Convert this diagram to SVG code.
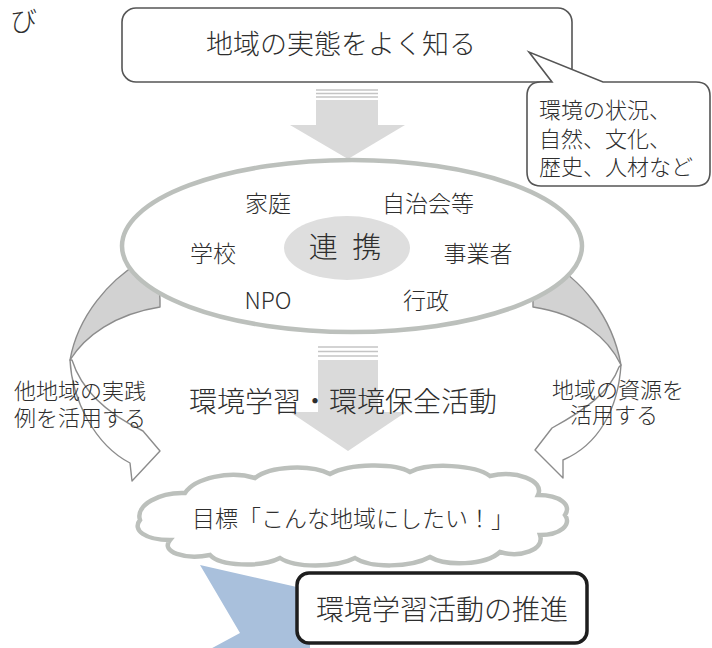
<svg xmlns="http://www.w3.org/2000/svg" width="712" height="648" viewBox="0 0 712 648">
<style>
text{font-family:"Noto Sans CJK JP","Noto Sans",sans-serif;font-weight:300;fill:#2e2e2e;}
.box{fill:#fff;stroke:#555;stroke-width:1.6;}
.ring{fill:#fff;stroke:#bcc0bc;stroke-width:4.5;}
.down{fill:#dadada;}
.stripe{stroke:#c4c4c4;stroke-width:1.3;}
.rib{fill:#d2d2d2;stroke:#8c8c8c;stroke-width:1.4;stroke-linejoin:round;}
.ribw{fill:#fff;stroke:#8c8c8c;stroke-width:1.4;stroke-linejoin:round;}
.l22{font-size:22px;}
.l23{font-size:23px;}
</style>
<text x="10" y="31" style="font-size:27px">び</text>
<g id="connectors">
  <g id="arrow-top">
    <line class="stripe" x1="316" y1="90" x2="378" y2="90"/>
    <line class="stripe" x1="316" y1="93.5" x2="378" y2="93.5"/>
    <line class="stripe" x1="316" y1="97" x2="378" y2="97"/>
    <polygon class="down" points="316,100 378,100 378,125 405,125 348,159 290,125 316,125"/>
  </g>
  <g id="arrow-mid">
    <line class="stripe" x1="318" y1="347" x2="378" y2="347"/>
    <line class="stripe" x1="318" y1="351.5" x2="378" y2="351.5"/>
    <line class="stripe" x1="318" y1="356" x2="378" y2="356"/>
    <polygon class="down" points="318,360 378,360 378,412 406,412 348,451 290,412 318,412"/>
  </g>
  <g id="ribbon-left">
    <path class="rib" d="M140,262 C110,280 78,315 70,360 C85,336 115,314 160,307 L160,300 L158,262 Z"/>
    <path class="ribw" d="M70,360 C72,400 95,445 130,463 L132,481 L160,451 L143,431 C110,415 82,392 72,360 Z"/>
  </g>
  <g id="ribbon-right">
    <path class="rib" d="M545,260 C580,278 612,315 621,365 C608,338 580,314 533,307 L533,298 Z"/>
    <path class="ribw" d="M621,365 C618,410 598,445 563,460 L563,478 L535,450 L552,428 C585,410 610,392 619,367 Z"/>
  </g>
  <polygon id="chevron" points="200,565 310,590 310,660 190,660 240,633" fill="#a9c0dc"/>
</g>
<g id="node-know">
  <rect class="box" x="122" y="8" width="450" height="74" rx="14"/>
  <text x="341" y="54" style="font-size:27px" text-anchor="middle">地域の実態をよく知る</text>
</g>
<g id="node-callout">
  <path class="box" d="M541,82 L552,82 L529,52 L603,82 L696,82 Q710,82 710,96 L710,172 Q710,186 696,186 L541,186 Q527,186 527,172 L527,96 Q527,82 541,82 Z"/>
  <text class="l22" x="539" y="118">環境の状況、<tspan x="539" y="147">自然、文化、</tspan><tspan x="539" y="175">歴史、人材など</tspan></text>
</g>
<g id="node-partners">
  <ellipse class="ring" cx="352" cy="246" rx="230" ry="86"/>
  <ellipse cx="347" cy="248" rx="63" ry="32" fill="#dedede"/>
  <text x="347" y="258" style="font-size:29px;letter-spacing:4px" text-anchor="middle">連 携</text>
  <text class="l23" x="268" y="212" text-anchor="middle">家庭</text>
  <text class="l23" x="428" y="212" text-anchor="middle">自治会等</text>
  <text class="l23" x="213" y="262" text-anchor="middle">学校</text>
  <text class="l23" x="478" y="262" text-anchor="middle">事業者</text>
  <text class="l23" x="268" y="309" text-anchor="middle">NPO</text>
  <text class="l23" x="426" y="309" text-anchor="middle">行政</text>
</g>
<g id="label-left">
  <text class="l22" x="80" y="399" text-anchor="middle">他地域の実践<tspan x="80" y="426">例を活用する</tspan></text>
</g>
<g id="label-right">
  <text class="l22" x="618" y="398" text-anchor="middle">地域の資源を<tspan x="614" y="423">活用する</tspan></text>
</g>
<g id="node-activity">
  <text x="343" y="412" style="font-size:28px" text-anchor="middle">環境学習・環境保全活動</text>
</g>
<g id="node-goal">
  <path class="ring" d="M140,520 C135,505 160,492 185,493 C195,478 230,470 255,478 C270,466 310,464 330,474 C350,463 395,463 410,472 C430,462 475,465 490,476 C515,470 545,480 538,495 C560,495 572,505 565,515 C572,525 560,535 540,535 C545,550 520,558 500,552 C485,566 445,566 430,557 C410,568 370,568 355,558 C335,568 295,568 280,558 C260,568 220,566 210,555 C185,560 160,552 170,540 C145,540 132,530 140,520 Z"/>
  <text x="353" y="527" style="font-size:23px" text-anchor="middle">目標「こんな地域にしたい！」</text>
</g>
<g id="node-promote">
  <rect x="297" y="573" width="290" height="70" rx="12" fill="#fff" stroke="#1e1e1e" stroke-width="3.5"/>
  <text x="442" y="620" style="font-size:28px" text-anchor="middle">環境学習活動の推進</text>
</g>
</svg>
